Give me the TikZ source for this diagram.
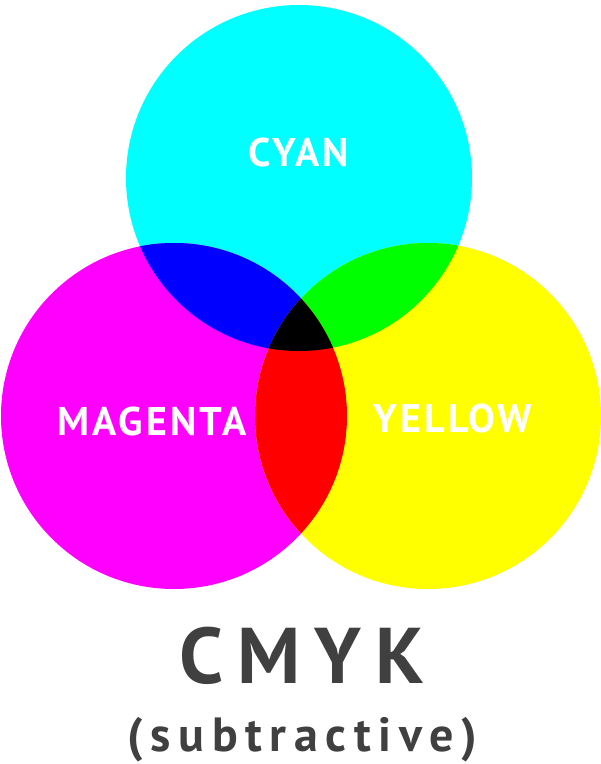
\documentclass[tikz,border=0pt]{standalone}
\usepackage{fontspec}
\setmainfont{PT Sans}
\usepackage{tikz}
\usetikzlibrary{positioning}
\definecolor{ccyan}{HTML}{00FFFF}
\definecolor{cmagenta}{HTML}{FF00FF}
\definecolor{cyellow}{HTML}{FFFF00}
\definecolor{cred}{HTML}{FF0000}
\definecolor{cgreen}{HTML}{00FF00}
\definecolor{cblue}{HTML}{0000FF}
\definecolor{ctitle}{HTML}{404040}
\newfontfamily\labelfont[LetterSpace=8]{PT Sans Bold}
\newfontfamily\titlefont[LetterSpace=18]{PT Sans Bold}
\newfontfamily\subfont[LetterSpace=16]{PT Sans Bold}
\def\cyanpath{(299,178) circle [radius=173pt]}
\def\magentapath{(174,416) circle [radius=173pt]}
\def\yellowpath{(428,416) circle [radius=173pt]}
\tikzset{
  inklabel/.style={text=white, font=\fontsize{40}{40}\selectfont\labelfont, inner sep=0pt},
  titlelabel/.style={text=ctitle, font=\fontsize{79}{79}\selectfont\titlefont, inner sep=0pt},
  sublabel/.style={text=ctitle, font=\fontsize{48}{48}\selectfont\subfont, inner sep=0pt},
}

\begin{document}
\begin{tikzpicture}[x=1pt, y=-1pt]
  \useasboundingbox (0,0) rectangle (601,764);
  % the three inks
  \fill[ccyan] \cyanpath;
  \fill[cmagenta] \magentapath;
  \fill[cyellow] \yellowpath;
  % overlaps
  \begin{scope}
    \clip \cyanpath;
    \fill[cblue] \magentapath;
    \fill[cgreen] \yellowpath;
  \end{scope}
  \begin{scope}
    \clip \magentapath;
    \fill[cred] \yellowpath;
    \clip \cyanpath;
    \fill[black] \yellowpath;
  \end{scope}
  % labels
  \node[inklabel] (cyan) at (299,152) {CYAN};
  \node[inklabel] (magenta) at (152,421) {MAGENTA};
  \node[inklabel] (yellow) at (453,418) {YELLOW};
  \node[titlelabel] (cmyk) at (302,656) {CMYK};
  \node[sublabel] (sub) at (302,740) {(subtractive)};
\end{tikzpicture}
\end{document}
